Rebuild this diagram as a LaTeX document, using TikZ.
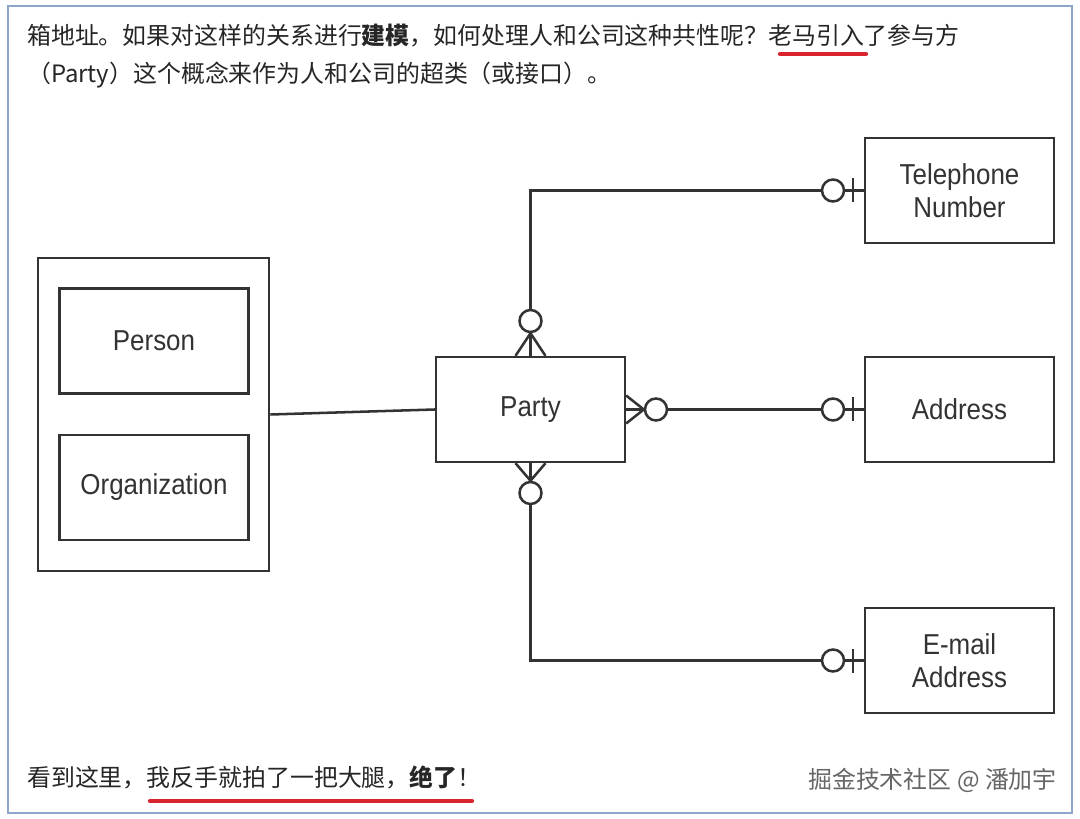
\documentclass[tikz,border=0pt]{standalone}
\usepackage{fontspec}
\setmainfont{Liberation Sans}
\newfontfamily\cjk{Noto Sans CJK SC}
\newfontfamily\erfont[FakeStretch=0.9]{Liberation Sans}
\usetikzlibrary{calc}
\definecolor{frm}{HTML}{8FA6CC}
\definecolor{ink}{HTML}{333333}
\definecolor{mark}{HTML}{D9232D}

\begin{document}
\begin{tikzpicture}[x=0.025cm,y=-0.025cm,
 ln/.style={draw=ink,line width=1.8pt},
 ent/.style={ln,minimum width=4.72cm,minimum height=2.62cm,align=center,
   font=\erfont\fontsize{20.5pt}{23.4pt}\selectfont,text=ink,inner sep=0pt},
 circ/.style={ln,circle,fill=white,minimum size=0.55cm,inner sep=0pt},
 txt/.style={anchor=west,inner sep=0pt,font=\cjk\fontsize{17pt}{20pt}\selectfont,text=black!85},
 ul/.style={draw=mark,line width=3pt,line cap=round}]
\useasboundingbox[fill=white] (0,0) rectangle (1080,819);
\draw[frm,line width=1.5pt] (8,6) rectangle (1072,813);
% text above and below
\node[txt] (t1) at (27,36) {箱地址。如果对这样的关系进行\textbf{建模}，如何处理人和公司这种共性呢？老马引入了参与方};
\node[txt] (t2) at (27,75) {（Party）这个概念来作为人和公司的超类（或接口）。};
\node[txt] (t3) at (27,777) {看到这里，我反手就拍了一把大腿，\textbf{绝了}！};
\node[txt,anchor=east,text=black!60] (wm) at (1057,780) {掘金技术社区 @ 潘加宇};
\draw[ul] (780,54) -- (866,54);
\draw[ul] (150,801) -- (472,801);
% entities
\node[ln,minimum width=5.78cm,minimum height=7.83cm] (G) at (153.5,414.5) {};
\node[ent] (Pe) at (154,341) {Person};
\node[ent] (Or) at (154,487.5) {Organization};
\node[ent] (P) at (530.5,409.5) {Party};
\node[ent] (T) at (959.5,190.5) {Telephone\\Number};
\node[ent] (A) at (959.5,409.5) {Address};
\node[ent] (E) at (959.5,660.5) {E-mail\\Address};
% circles
\node[circ] (cP1) at (530.5,321) {};
\node[circ] (cP2) at (656,409.5) {};
\node[circ] (cP3) at (530.5,493) {};
\node[circ] (cT) at (833,190.5) {};
\node[circ] (cA) at (833,409.5) {};
\node[circ] (cE) at (833,660.5) {};
% connectors
\draw[ln] (G.east) -- (P.west);
\draw[ln] (cP1.north) |- (cT.west);
\draw[ln] (cP2.east) -- (cA.west);
\draw[ln] (cP3.south) |- (cE.west);
\draw[ln] (cT.east) -- (T.west);
\draw[ln] (cA.east) -- (A.west);
\draw[ln] (cE.east) -- (E.west);
% crow's feet
\draw[ln] (cP1.south) -- ($(P.north)+(-15,0)$) (cP1.south) -- (P.north) (cP1.south) -- ($(P.north)+(15,0)$);
\draw[ln] (cP2.west) -- ($(P.east)+(0,-14)$) (cP2.west) -- (P.east) (cP2.west) -- ($(P.east)+(0,14)$);
\draw[ln] (cP3.north) -- ($(P.south)+(-15,0)$) (cP3.north) -- (P.south) (cP3.north) -- ($(P.south)+(15,0)$);
% bars
\draw[ln] ($(T.west)+(-11,-12)$) -- ++(0,24);
\draw[ln] ($(A.west)+(-11,-12)$) -- ++(0,24);
\draw[ln] ($(E.west)+(-11,-12)$) -- ++(0,24);
\end{tikzpicture}
\end{document}
